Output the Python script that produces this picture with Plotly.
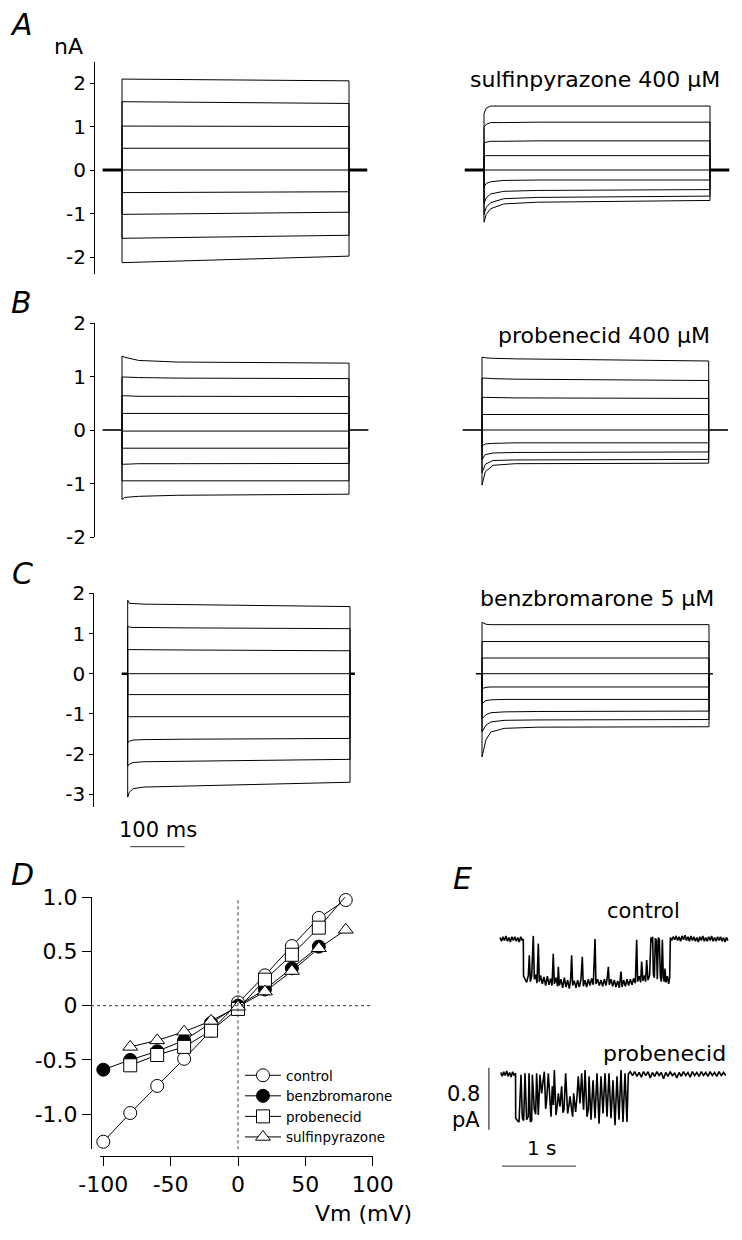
import plotly.graph_objects as go

# target picture size and page offset (browser body margin)
W, H = 742, 1240
OFF = 8
FW, FH = W - OFF, H - OFF
FONT = "DejaVu Sans"

# ======================= DATA =======================
STEP_MS = 410  # voltage-step duration (ms)

# Panel A, control (left): read points (time ms) and currents (nA) of the 9 sweeps
A_CTRL_T = [0, 410]
A_CTRL_I = [[2.09, 2.05], [1.57, 1.53], [1.01, 1.00], [0.50, 0.50], [0.0, 0.0],
            [-0.52, -0.50], [-1.02, -0.97], [-1.57, -1.50], [-2.13, -1.98]]
A_CTRL_PRE, A_CTRL_POST = 35, 33
# Panel A, sulfinpyrazone 400 uM (right)
A_SULF_T = [0, 4, 12, 36, 97, 410]
A_SULF_I = [[1.30, 1.42, 1.47, 1.47, 1.47, 1.47],
            [0.98, 1.05, 1.09, 1.09, 1.10, 1.10],
            [0.62, 0.64, 0.66, 0.66, 0.67, 0.67],
            [0.33, 0.33, 0.33, 0.33, 0.33, 0.33],
            [0.0, 0.0, 0.0, 0.0, 0.0, 0.0],
            [-0.39, -0.31, -0.27, -0.24, -0.23, -0.23],
            [-0.78, -0.64, -0.55, -0.49, -0.47, -0.45],
            [-1.02, -0.86, -0.75, -0.66, -0.63, -0.60],
            [-1.20, -1.02, -0.89, -0.78, -0.74, -0.70]]
A_SULF_PRE, A_SULF_POST = 35, 35

# Panel B, control (left)
B_CTRL_T = [0, 5, 30, 100, 410]
B_CTRL_I = [[1.38, 1.36, 1.30, 1.27, 1.25],
            [0.99, 0.99, 0.98, 0.97, 0.96],
            [0.64, 0.64, 0.63, 0.63, 0.625],
            [0.31, 0.31, 0.31, 0.31, 0.31],
            [-0.02, -0.02, -0.02, -0.02, -0.02],
            [-0.34, -0.34, -0.34, -0.34, -0.34],
            [-0.64, -0.64, -0.63, -0.63, -0.625],
            [-0.95, -0.95, -0.95, -0.95, -0.95],
            [-1.30, -1.26, -1.24, -1.22, -1.20]]
B_CTRL_PRE, B_CTRL_POST = 35, 35
# Panel B, probenecid 400 uM (right)
B_PROB_T = [0, 6, 20, 60, 410]
B_PROB_I = [[1.36, 1.35, 1.34, 1.33, 1.29],
            [0.97, 0.97, 0.96, 0.95, 0.925],
            [0.61, 0.61, 0.61, 0.60, 0.59],
            [0.29, 0.29, 0.29, 0.29, 0.29],
            [0.0, 0.0, 0.0, 0.0, 0.0],
            [-0.30, -0.26, -0.25, -0.24, -0.24],
            [-0.55, -0.46, -0.43, -0.42, -0.41],
            [-0.80, -0.64, -0.57, -0.56, -0.55],
            [-1.03, -0.78, -0.66, -0.63, -0.62]]
B_PROB_PRE, B_PROB_POST = 35, 35

# Panel C, control (left)
C_CTRL_T = [0, 3, 10, 30, 100, 410]
C_CTRL_I = [[1.83, 1.75, 1.74, 1.73, 1.72, 1.67],
            [1.18, 1.16, 1.15, 1.15, 1.14, 1.12],
            [0.60, 0.60, 0.60, 0.59, 0.59, 0.57],
            [0.0, 0.0, 0.0, 0.0, 0.0, 0.0],
            [-0.52, -0.52, -0.52, -0.52, -0.52, -0.52],
            [-1.07, -1.07, -1.07, -1.07, -1.07, -1.07],
            [-1.72, -1.68, -1.65, -1.64, -1.63, -1.61],
            [-2.30, -2.25, -2.21, -2.19, -2.18, -2.13],
            [-3.07, -2.95, -2.86, -2.82, -2.80, -2.70]]
C_CTRL_PRE, C_CTRL_POST = 11, 9
# Panel C, benzbromarone 5 uM (right)
C_BENZ_T = [0, 7, 16, 40, 100, 410]
C_BENZ_I = [[1.28, 1.23, 1.22, 1.22, 1.22, 1.22],
            [0.80, 0.80, 0.80, 0.80, 0.80, 0.80],
            [0.39, 0.39, 0.39, 0.39, 0.39, 0.39],
            [0.0, 0.0, 0.0, 0.0, 0.0, 0.0],
            [-0.37, -0.34, -0.33, -0.33, -0.33, -0.33],
            [-0.74, -0.67, -0.65, -0.64, -0.64, -0.64],
            [-1.12, -1.02, -0.97, -0.95, -0.94, -0.93],
            [-1.45, -1.28, -1.20, -1.16, -1.15, -1.14],
            [-2.07, -1.65, -1.45, -1.36, -1.33, -1.32]]
C_BENZ_PRE, C_BENZ_POST = 11, 7

SCALE_MS = 100  # time scale bar (ms)

A_TICKS = [-2, -1, 0, 1, 2]
A_TICKTEXT = ["-2", "-1", "0", "1", "2"]
B_TICKS = [-2, -1, 0, 1, 2]
B_TICKTEXT = ["-2", "-1", "0", "1", "2"]
C_TICKS = [-3, -2, -1, 0, 1, 2]
C_TICKTEXT = ["-3", "-2", "-1", "0", "1", "2"]

# Panel D: normalized I-V relations
D_VM_CTRL = [-100, -80, -60, -40, -20, 0, 20, 40, 60, 80]
D_CTRL = [-1.255, -0.99, -0.74, -0.49, -0.23, 0.03, 0.28, 0.55, 0.81, 0.975]
D_VM_BENZ = [-100, -80, -60, -40, -20, 0, 20, 40, 60]
D_BENZ = [-0.59, -0.50, -0.42, -0.32, -0.16, 0.0, 0.15, 0.345, 0.545]
D_VM_PROB = [-80, -60, -40, -20, 0, 20, 40, 60, 80]
D_PROB = [-0.55, -0.455, -0.38, -0.23, -0.03, 0.24, 0.47, 0.72, 1.01]
D_VM_SULF = [-80, -60, -40, -20, 0, 20, 40, 60, 80]
D_SULF = [-0.38, -0.32, -0.24, -0.14, -0.01, 0.13, 0.32, 0.53, 0.70]
D_XTICKS = [-100, -50, 0, 50, 100]
D_XTICKTEXT = ["-100", "-50", "0", "50", "100"]
D_YTICKS = [-1.0, -0.5, 0, 0.5, 1.0]
D_YTICKTEXT = ["-1.0", "-0.5", "0", "0.5", "1.0"]

# Panel E: single-channel records (time s, current pA relative to closed level)
E_CTRL_T = [0, 0.02, 0.04, 0.06, 0.08, 0.10, 0.12, 0.14, 0.16, 0.18, 0.20, 0.22, 0.24, 0.26, 0.28, 0.30, 0.315,
            0.318, 0.329, 0.36, 0.383, 0.396, 0.41, 0.428, 0.45, 0.464, 0.482, 0.50, 0.518, 0.531, 0.549,
            0.572, 0.594, 0.617, 0.64, 0.662, 0.685, 0.703, 0.72, 0.734, 0.757, 0.779, 0.788, 0.802, 0.824,
            0.847, 0.869, 0.892, 0.914, 0.937, 0.955, 0.968, 0.982, 1.004, 1.027, 1.049, 1.072, 1.094, 1.112,
            1.126, 1.148, 1.171, 1.193, 1.216, 1.239, 1.261, 1.284, 1.297, 1.32, 1.342, 1.365, 1.387, 1.41,
            1.432, 1.45, 1.464, 1.477, 1.50, 1.522, 1.545, 1.567, 1.59, 1.612, 1.635, 1.649, 1.671, 1.694,
            1.716, 1.739, 1.761, 1.784, 1.806, 1.829, 1.847, 1.86, 1.883, 1.901, 1.914, 1.932, 1.955, 1.968,
            1.982, 2.0, 2.022, 2.04, 2.054, 2.063, 2.072, 2.086, 2.099, 2.113, 2.126, 2.14, 2.153, 2.167,
            2.18, 2.194, 2.207, 2.22, 2.23, 2.243, 2.261, 2.279, 2.293, 2.302,
            2.32, 2.34, 2.36, 2.38, 2.40, 2.42, 2.44, 2.46, 2.48, 2.50, 2.52, 2.54, 2.56, 2.58, 2.60, 2.62,
            2.64, 2.66, 2.68, 2.70, 2.72, 2.74, 2.76, 2.78, 2.80, 2.82, 2.84, 2.86, 2.88, 2.90, 2.92, 2.94,
            2.96, 2.98, 3.00, 3.02, 3.04, 3.06, 3.08]
E_CTRL_I = [0.02, -0.03, 0.03, -0.02, 0.04, -0.03, 0.02, -0.04, 0.03, -0.02, 0.03, -0.03, 0.02, -0.04, 0.03, -0.02, 0.0,
            -0.48, -0.50, -0.56, -0.47, -0.21, -0.55, -0.48, 0.04, -0.52, -0.46, -0.57, -0.06, -0.55, -0.47,
            -0.58, -0.49, -0.60, -0.48, -0.59, -0.51, -0.60, -0.19, -0.58, -0.50, -0.61, -0.36, -0.60, -0.52,
            -0.63, -0.50, -0.62, -0.53, -0.64, -0.52, -0.21, -0.60, -0.54, -0.63, -0.53, -0.62, -0.52, -0.23,
            -0.61, -0.53, -0.62, -0.52, -0.60, -0.51, -0.59, 0.0, -0.58, -0.52, -0.60, -0.53, -0.61, -0.52,
            -0.60, -0.50, -0.36, -0.59, -0.52, -0.61, -0.53, -0.62, -0.54, -0.63, -0.42, -0.62, -0.53, -0.61,
            -0.52, -0.60, -0.52, -0.59, -0.51, -0.57, -0.01, -0.55, -0.48, -0.56, -0.29, -0.54, -0.47, -0.55,
            -0.27, -0.53, -0.47, 0.02, -0.05, 0.03, -0.45, -0.50, 0.01, -0.02, -0.52, 0.02, -0.01, -0.48,
            -0.55, -0.01, -0.50, -0.55, -0.38, -0.56, -0.48, -0.58, -0.50, 0.02,
            -0.02, 0.03, -0.01, 0.04, -0.02, 0.03, -0.03, 0.04, -0.01, 0.05, -0.02, 0.03, -0.03, 0.04, -0.02, 0.03,
            -0.03, 0.02, -0.04, 0.03, -0.02, 0.04, -0.03, 0.02, -0.03, 0.03, -0.02, 0.04, -0.03, 0.02, -0.03, 0.03,
            -0.02, 0.03, -0.03, 0.02, -0.04, 0.02, -0.02]

E_PROB_T = [0.01, 0.03, 0.05, 0.07, 0.09, 0.11, 0.13, 0.15, 0.17, 0.19, 0.21,
            0.212, 0.234, 0.257, 0.284, 0.302, 0.32, 0.338, 0.36, 0.383, 0.392, 0.41, 0.428, 0.437, 0.464,
            0.482, 0.495, 0.518, 0.54, 0.563, 0.581, 0.599, 0.617, 0.63, 0.653, 0.676, 0.689, 0.707, 0.721,
            0.734, 0.757, 0.775, 0.788, 0.811, 0.833, 0.851, 0.865, 0.887, 0.914, 0.932, 0.946, 0.968, 0.982,
            0.995, 1.022, 1.04, 1.058, 1.081, 1.104, 1.121, 1.13, 1.149, 1.176, 1.194, 1.203, 1.23, 1.257,
            1.284, 1.311, 1.338, 1.365, 1.392, 1.419, 1.446, 1.473, 1.5, 1.527, 1.554, 1.581, 1.608, 1.635,
            1.662, 1.689, 1.716, 1.734,
            1.76, 1.79, 1.82, 1.85, 1.88, 1.91, 1.94, 1.97, 2.00, 2.03, 2.06, 2.09, 2.12, 2.15, 2.18, 2.21,
            2.24, 2.27, 2.30, 2.33, 2.36, 2.39, 2.42, 2.45, 2.48, 2.51, 2.54, 2.57, 2.60, 2.63, 2.66, 2.69,
            2.72, 2.75, 2.78, 2.81, 2.84, 2.87, 2.90, 2.93, 2.96, 2.99, 3.02, 3.05]
E_PROB_I = [0.02, -0.03, 0.03, -0.02, 0.04, -0.03, 0.02, -0.04, 0.03, -0.02, 0.01,
            -0.57, -0.60, -0.62, -0.01, -0.57, -0.60, 0.01, -0.59, -0.55, 0.01, -0.62, -0.60, -0.01, -0.46,
            -0.52, 0.01, -0.53, -0.01, -0.25, -0.10, 0.03, -0.45, -0.34, 0.01, -0.46, -0.55, -0.16, -0.40,
            0.05, -0.53, -0.40, -0.25, -0.42, -0.16, -0.50, -0.46, 0.01, -0.51, -0.40, -0.29, -0.46, -0.55,
            -0.25, -0.49, -0.30, -0.03, -0.38, 0.01, -0.35, -0.46, 0.05, -0.55, -0.45, -0.03, -0.59, -0.08,
            -0.57, 0.01, -0.64, -0.03, -0.51, 0.01, -0.55, 0.01, -0.57, -0.08, -0.66, -0.03, -0.59, 0.05,
            -0.62, 0.01, -0.62, 0.0,
            0.03, -0.02, 0.03, -0.03, 0.02, -0.04, 0.03, -0.02, 0.03, -0.05, 0.02, -0.03, 0.03, -0.02, 0.02, -0.06,
            0.02, -0.03, 0.03, -0.02, 0.01, -0.05, 0.02, -0.03, 0.03, -0.02, 0.02, -0.04, 0.03, -0.02, 0.02, -0.03,
            0.03, -0.02, 0.02, -0.03, 0.03, -0.02, 0.02, -0.03, 0.03, -0.02, 0.02, -0.02]

E_SCALE_S = 1.0    # s
E_SCALE_PA = 0.8   # pA

# ======================= LAYOUT HELPERS (pixel -> paper) =======================
def px(p):
    return (p - OFF) / FW


def py(p):
    return 1 - (p - OFF) / FH


def xdom(p0, p1):
    return [px(p0), px(p1)]


def ydom(top, bot):
    return [py(bot), py(top)]


def lin(p, pa, va, pb, vb):
    return va + (p - pa) * (vb - va) / (pb - pa)


def xrng(p0, p1, pa, va, pb, vb):
    return [lin(p0, pa, va, pb, vb), lin(p1, pa, va, pb, vb)]


def yrng(top, bot, pa, va, pb, vb):
    return [lin(bot, pa, va, pb, vb), lin(top, pa, va, pb, vb)]


fig = go.Figure()
LINE = dict(color="black", width=1)


def add_step_panel(times, currents, pre, post, n, hold_w):
    xa, ya = f"x{n}", f"y{n}"
    for vals in currents:
        fig.add_trace(go.Scatter(x=[0] + list(times) + [times[-1]], y=[0] + list(vals) + [0],
                                 mode="lines", line=LINE, xaxis=xa, yaxis=ya,
                                 showlegend=False, hoverinfo="skip"))
    end = times[-1]
    fig.add_trace(go.Scatter(x=[-pre, 0, None, end, end + post], y=[0, 0, None, 0, 0],
                             mode="lines", line=dict(color="black", width=hold_w),
                             xaxis=xa, yaxis=ya, showlegend=False, hoverinfo="skip"))


add_step_panel(A_CTRL_T, A_CTRL_I, A_CTRL_PRE, A_CTRL_POST, 1, 3)
add_step_panel(A_SULF_T, A_SULF_I, A_SULF_PRE, A_SULF_POST, 2, 3)
add_step_panel(B_CTRL_T, B_CTRL_I, B_CTRL_PRE, B_CTRL_POST, 3, 1.6)
add_step_panel(B_PROB_T, B_PROB_I, B_PROB_PRE, B_PROB_POST, 4, 1.6)
add_step_panel(C_CTRL_T, C_CTRL_I, C_CTRL_PRE, C_CTRL_POST, 5, 2.5)
add_step_panel(C_BENZ_T, C_BENZ_I, C_BENZ_PRE, C_BENZ_POST, 6, 1.6)

# Panel D traces
def mk(color, symbol, size):
    return dict(color=color, symbol=symbol, size=size, line=dict(color="black", width=1))


for name, vx, vy, m in [("control", D_VM_CTRL, D_CTRL, mk("white", "circle", 13)),
                        ("benzbromarone", D_VM_BENZ, D_BENZ, mk("black", "circle", 13)),
                        ("probenecid", D_VM_PROB, D_PROB, mk("white", "square", 13)),
                        ("sulfinpyrazone", D_VM_SULF, D_SULF, mk("white", "triangle-up", 13))]:
    fig.add_trace(go.Scatter(x=vx, y=vy, mode="lines+markers", name=name, line=LINE, marker=m,
                             xaxis="x7", yaxis="y7", cliponaxis=False))

# Panel E traces
fig.add_trace(go.Scatter(x=E_CTRL_T, y=E_CTRL_I, mode="lines", line=dict(color="black", width=1.6),
                         xaxis="x8", yaxis="y8", showlegend=False, hoverinfo="skip"))
fig.add_trace(go.Scatter(x=E_PROB_T, y=E_PROB_I, mode="lines", line=dict(color="black", width=1.6),
                         xaxis="x9", yaxis="y9", showlegend=False, hoverinfo="skip"))

# ======================= AXES =======================
hidden = dict(visible=False, showgrid=False, zeroline=False, fixedrange=True, automargin=False)
yleft = dict(showline=True, linecolor="black", linewidth=1, ticks="outside", ticklen=4,
             tickcolor="black", tickwidth=1, showgrid=False, zeroline=False, automargin=False,
             tickfont=dict(family=FONT, size=20, color="black"), fixedrange=True)

A_Y = dict(domain=ydom(62, 274), range=yrng(62, 274, 170, 0, 83, 2))
B_Y = dict(domain=ydom(323, 537), range=yrng(323, 537, 323, 2, 537, -2))
C_Y = dict(domain=ydom(593.3, 806.7), range=yrng(593.3, 806.7, 593.3, 2, 794.3, -3))

lay = {}
lay["xaxis"] = dict(hidden, domain=xdom(95, 380), range=xrng(95, 380, 122, 0, 349, STEP_MS), anchor="y")
lay["yaxis"] = dict(yleft, **A_Y, anchor="x", tickvals=A_TICKS, ticktext=A_TICKTEXT)
lay["xaxis2"] = dict(hidden, domain=xdom(455, 740), range=xrng(455, 740, 484, 0, 710, STEP_MS), anchor="y2")
lay["yaxis2"] = dict(hidden, **A_Y, anchor="x2")
lay["xaxis3"] = dict(hidden, domain=xdom(95, 380), range=xrng(95, 380, 122, 0, 349, STEP_MS), anchor="y3")
lay["yaxis3"] = dict(yleft, **B_Y, anchor="x3", tickvals=B_TICKS, ticktext=B_TICKTEXT)
lay["xaxis4"] = dict(hidden, domain=xdom(455, 740), range=xrng(455, 740, 482, 0, 708.7, STEP_MS), anchor="y4")
lay["yaxis4"] = dict(hidden, **B_Y, anchor="x4")
lay["xaxis5"] = dict(hidden, domain=xdom(94.3, 380), range=xrng(94.3, 380, 127.7, 0, 350, STEP_MS), anchor="y5")
lay["yaxis5"] = dict(yleft, **C_Y, anchor="x5", tickvals=C_TICKS, ticktext=C_TICKTEXT)
lay["xaxis6"] = dict(hidden, domain=xdom(455, 740), range=xrng(455, 740, 482, 0, 709, STEP_MS), anchor="y6")
lay["yaxis6"] = dict(hidden, **C_Y, anchor="x6")

dfont = dict(family=FONT, size=22, color="black")
lay["xaxis7"] = dict(domain=xdom(100, 372.7), range=xrng(100, 372.7, 103.3, -100, 372.7, 100),
                     anchor="free", position=py(1156), showline=True, linecolor="black", linewidth=1,
                     ticks="outside", ticklen=9, tickcolor="black", showgrid=False, zeroline=False,
                     automargin=False,
                     tickvals=D_XTICKS, ticktext=D_XTICKTEXT, tickfont=dfont, fixedrange=True)
lay["yaxis7"] = dict(domain=ydom(897.3, 1149.3), range=yrng(897.3, 1149.3, 897.3, 1.0, 1005.7, 0.0),
                     anchor="free", position=px(91), showline=True, linecolor="black", linewidth=1,
                     ticks="outside", ticklen=9, tickcolor="black", showgrid=False, zeroline=False,
                     automargin=False,
                     tickvals=D_YTICKS, ticktext=D_YTICKTEXT, tickfont=dfont, fixedrange=True)

lay["xaxis8"] = dict(hidden, domain=xdom(480, 740), range=xrng(480, 740, 500, 0, 574, 1), anchor="y8")
lay["yaxis8"] = dict(hidden, domain=ydom(905, 1000), range=yrng(905, 1000, 939, 0, 1001, -0.8), anchor="x8")
lay["xaxis9"] = dict(hidden, domain=xdom(480, 740), range=xrng(480, 740, 500, 0, 574, 1), anchor="y9")
lay["yaxis9"] = dict(hidden, domain=ydom(1040, 1175), range=yrng(1040, 1175, 1074, 0, 1136, -0.8), anchor="x9")

# ======================= SHAPES =======================
shapes = []
# 100 ms scale bar under panel C
shapes.append(dict(type="line", xref="x5", yref="paper", x0=5, x1=5 + SCALE_MS,
                   y0=py(846.7), y1=py(846.7), line=dict(color="#333", width=1)))
# D dotted zero lines
shapes.append(dict(type="line", xref="x7", yref="y7", x0=0, x1=0, y0=-1.325, y1=0.98,
                   line=dict(color="#333", width=1, dash="dot")))
shapes.append(dict(type="line", xref="paper", yref="y7", x0=px(91), x1=px(372.7), y0=0, y1=0,
                   line=dict(color="#333", width=1, dash="dot")))
# E scale bars
shapes.append(dict(type="line", xref="x9", yref="y9", x0=-0.15, x1=-0.15, y0=0.08, y1=0.08 - E_SCALE_PA,
                   line=dict(color="#333", width=1.2)))
shapes.append(dict(type="line", xref="x9", yref="y9", x0=0.027, x1=0.027 + E_SCALE_S, y0=-1.19, y1=-1.19,
                   line=dict(color="#555", width=1.2)))

# ======================= ANNOTATIONS =======================
def ann(text, x, y, size, xanchor="center"):
    return dict(text=text, x=px(x), y=py(y), xref="paper", yref="paper", showarrow=False,
                xanchor=xanchor, yanchor="middle", font=dict(family=FONT, size=size, color="black"))


anns = [
    ann("<i>A</i>", 21, 24, 30), ann("<i>B</i>", 21, 302, 30), ann("<i>C</i>", 22, 573, 30),
    ann("<i>D</i>", 22, 874, 30), ann("<i>E</i>", 462, 878, 30),
    ann("nA", 68, 46, 22),
    ann("sulfinpyrazone 400 μM", 595, 80, 22),
    ann("probenecid 400 μM", 604, 336, 22),
    ann("benzbromarone 5 μM", 597, 598, 22),
    ann("100 ms", 158, 830, 21),
    ann("Vm (mV)", 363, 1213, 22),
    ann("control", 643, 911, 21),
    ann("probenecid", 664, 1053, 22),
    ann("0.8", 482, 1094, 21, "right"),
    ann("pA", 482, 1120, 21, "right"),
    ann("1 s", 542, 1148, 20),
]

fig.update_layout(
    template="none",
    width=FW, height=FH, margin=dict(l=0, r=0, t=0, b=0, pad=0, autoexpand=False),
    paper_bgcolor="white", plot_bgcolor="white",
    font=dict(family=FONT, color="black"),
    shapes=shapes, annotations=anns,
    legend=dict(x=px(240), y=py(1060), xanchor="left", yanchor="top",
                font=dict(family=FONT, size=13.5, color="black"), bgcolor="rgba(0,0,0,0)",
                borderwidth=0, tracegroupgap=0, itemwidth=36, itemclick=False, itemdoubleclick=False),
    showlegend=True,
    **lay,
)

fig.write_html("out.html")
